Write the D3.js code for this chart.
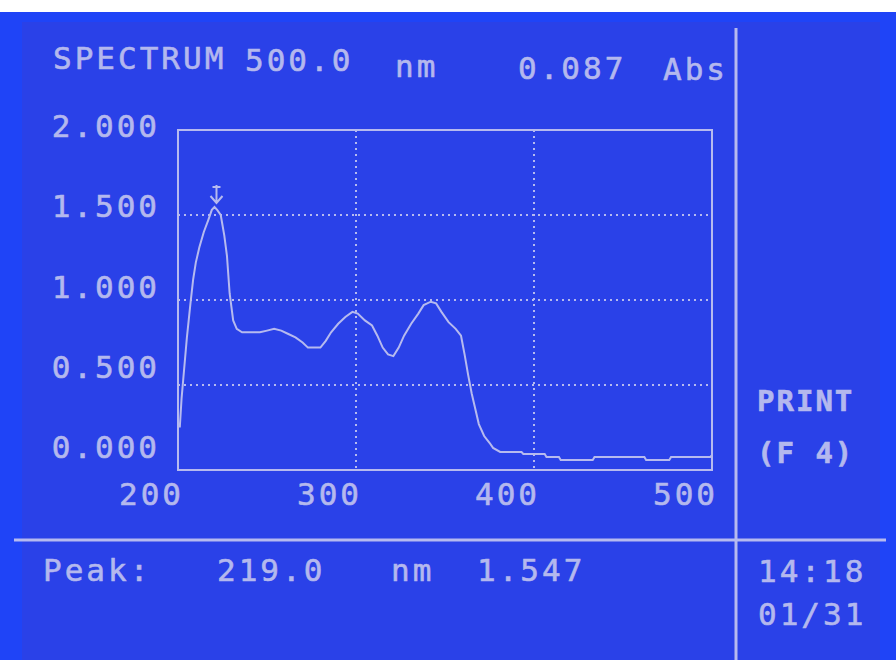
<!DOCTYPE html>
<html>
<head>
<meta charset="utf-8">
<script src="https://cdn.jsdelivr.net/npm/d3@7"></script>
<style>
  html, body { margin: 0; padding: 0; background: #fff; }
  svg { display: block; }
  text { font-family: "DejaVu Sans Mono", "Liberation Mono", monospace; fill: #b4b8ee; stroke: #b4b8ee; stroke-width: 0.6; }
</style>
</head>
<body>
<svg id="chart"></svg>
<script>
// spectrum (nm, Abs)
const wavelength = [201, 202, 203.5, 205, 207, 208.5, 210, 212, 214.5, 217, 219, 220.5, 222, 224, 226, 227.5, 229, 231, 233, 236,
  240, 246, 250, 254, 258, 262, 266, 270, 273, 277, 280, 283, 286, 290, 294, 298, 301, 305, 309, 312,
  315, 318, 321, 324, 327, 331, 335, 338, 342, 345, 348, 352, 356, 359, 361, 363, 365, 367, 369, 372,
  375, 377, 381, 393, 394, 406, 407, 414, 415, 433, 434, 462, 463, 476, 477, 499, 500];
const absorbance = [0.25, 0.42, 0.60, 0.78, 0.98, 1.12, 1.22, 1.31, 1.40, 1.47, 1.53, 1.547, 1.53, 1.50, 1.38, 1.26, 1.04, 0.88, 0.83, 0.81,
  0.81, 0.81, 0.82, 0.83, 0.82, 0.80, 0.78, 0.75, 0.72, 0.72, 0.72, 0.76, 0.81, 0.86, 0.90, 0.93, 0.92, 0.88, 0.85, 0.79,
  0.72, 0.68, 0.67, 0.72, 0.79, 0.86, 0.92, 0.97, 0.99, 0.98, 0.93, 0.87, 0.83, 0.79, 0.68, 0.56, 0.45, 0.36, 0.27, 0.20,
  0.16, 0.13, 0.106, 0.106, 0.094, 0.094, 0.077, 0.077, 0.059, 0.059, 0.077, 0.077, 0.059, 0.059, 0.077, 0.077, 0.087];

const xTicks = [200, 300, 400, 500];
const xGrid = [300, 400];
const yTicks = [0, 0.5, 1.0, 1.5, 2.0];
const yGrid = [0.5, 1.0, 1.5];

const header = ["SPECTRUM", "500.0", "nm", "0.087", "Abs"];
const footer = ["Peak:", "219.0", "nm", "1.547"];
const sideKeys = ["PRINT", "(F 4)"];
const clock = ["14:18", "01/31"];

const W = 896, H = 660;
const BOX = { left: 178, right: 712, top: 130, bottom: 470 };
const FG = "#b6baef";

const svg = d3.select("#chart").attr("width", W).attr("height", H);

// screen background
svg.append("rect").attr("width", W).attr("height", H).attr("fill", "#ffffff");
svg.append("rect").attr("x", 0).attr("y", 12).attr("width", W).attr("height", H - 12).attr("fill", "#1f44f7");
svg.append("rect").attr("x", 22).attr("y", 22).attr("width", 858).attr("height", H - 22).attr("fill", "#2a41e8");

const x = d3.scaleLinear().domain([200, 500]).range([BOX.left, BOX.right]);
const y = d3.scaleLinear().domain([0, 2]).range([BOX.bottom, BOX.top]);
// the LCD places the axis numbers on a slightly tighter grid than the plot
const yLabel = d3.scaleLinear().domain([0, 2]).range([458, 137]);

const g = svg.append("g");

// dotted grid
g.selectAll("line.hgrid").data(yGrid).join("line")
  .attr("class", "hgrid")
  .attr("x1", BOX.left).attr("x2", BOX.right)
  .attr("y1", d => y(d)).attr("y2", d => y(d))
  .attr("stroke", FG).attr("stroke-width", 2).attr("stroke-dasharray", "2 4");

g.selectAll("line.vgrid").data(xGrid).join("line")
  .attr("class", "vgrid")
  .attr("x1", d => x(d)).attr("x2", d => x(d))
  .attr("y1", BOX.top).attr("y2", BOX.bottom)
  .attr("stroke", FG).attr("stroke-width", 2).attr("stroke-dasharray", "2 4");

// frame
g.append("rect")
  .attr("x", BOX.left).attr("y", BOX.top)
  .attr("width", BOX.right - BOX.left).attr("height", BOX.bottom - BOX.top)
  .attr("fill", "none").attr("stroke", FG).attr("stroke-width", 2);

// the trace
const pts = wavelength.map((w, i) => [w, absorbance[i]]);
g.append("path")
  .datum(pts)
  .attr("fill", "none")
  .attr("stroke", FG)
  .attr("stroke-width", 2)
  .attr("d", d3.line().x(d => x(d[0])).y(d => y(d[1])));

// peak marker
const peak = pts.reduce((a, b) => (b[1] > a[1] ? b : a));
const px = x(peak[0]) + 2, py = y(peak[1]);
g.append("path")
  .attr("d", `M${px},${py - 22} L${px},${py - 4} M${px - 6},${py - 11} L${px},${py - 4} L${px + 6},${py - 11} M${px - 4},${py - 20} L${px + 4},${py - 20}`)
  .attr("fill", "none").attr("stroke", FG).attr("stroke-width", 2);

// axis numbers
const labelStyle = sel => sel.attr("font-size", 31).attr("letter-spacing", 3);

g.selectAll("text.ylab").data(yTicks).join("text")
  .attr("class", "ylab")
  .attr("x", 160).attr("y", d => yLabel(d))
  .attr("text-anchor", "end")
  .call(labelStyle)
  .text(d => d3.format(".3f")(d));

g.selectAll("text.xlab").data(xTicks).join("text")
  .attr("class", "xlab")
  .attr("x", d => x(d) + 6).attr("y", 505)
  .attr("text-anchor", "end")
  .call(labelStyle)
  .text(d => d);

// header line
const headerX = [53, 245, 395, 518, 663];
const headerY = [69, 71, 77, 79, 80];
svg.selectAll("text.head").data(header).join("text")
  .attr("class", "head")
  .attr("x", (d, i) => headerX[i]).attr("y", (d, i) => headerY[i])
  .call(labelStyle)
  .text(d => d);

// separators
svg.append("line").attr("x1", 736).attr("x2", 736).attr("y1", 28).attr("y2", H)
  .attr("stroke", FG).attr("stroke-width", 3);
svg.append("line").attr("x1", 14).attr("x2", 886).attr("y1", 540).attr("y2", 540)
  .attr("stroke", FG).attr("stroke-width", 3);

// footer
const footerX = [43, 217, 391, 477];
svg.selectAll("text.foot").data(footer).join("text")
  .attr("class", "foot")
  .attr("x", (d, i) => footerX[i]).attr("y", 581)
  .call(labelStyle)
  .text(d => d);

// side panel
svg.selectAll("text.key").data(sideKeys).join("text")
  .attr("class", "key")
  .attr("x", 757).attr("y", (d, i) => 411 + i * 52)
  .attr("font-size", 29).attr("font-weight", "bold").attr("letter-spacing", 2)
  .text(d => d);

svg.selectAll("text.clock").data(clock).join("text")
  .attr("class", "clock")
  .attr("x", 758).attr("y", (d, i) => 582 + i * 43)
  .call(labelStyle)
  .text(d => d);
</script>
</body>
</html>
